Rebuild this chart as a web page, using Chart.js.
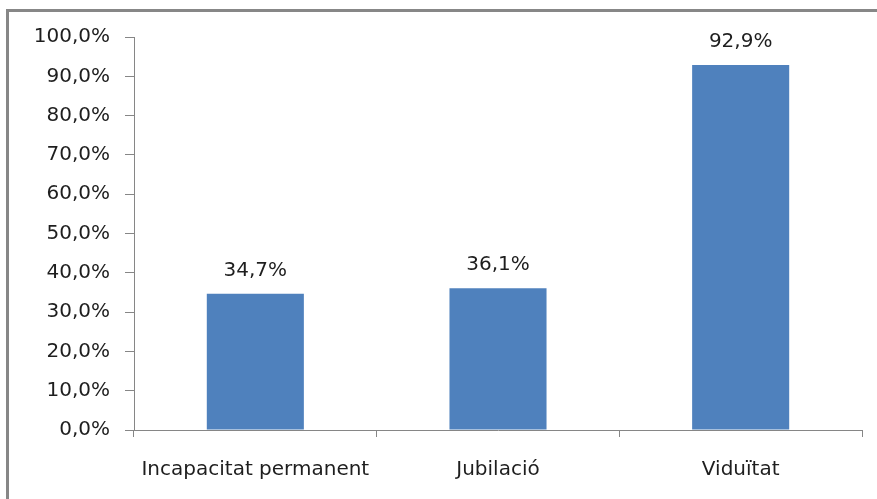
<!DOCTYPE html>
<html>
<head>
<meta charset="utf-8">
<script src="https://cdn.jsdelivr.net/npm/chart.js@4"></script>
<style>
  html, body { margin: 0; padding: 0; background: #fff; }
  #wrap { position: relative; width: 877px; height: 499px; overflow: hidden; }
  #frame {
    position: absolute; left: 6px; top: 9px; width: 900px; height: 520px;
    border-top: 3px solid #878787; border-left: 3px solid #878787;
  }
  canvas { position: absolute; left: 0; top: 0; }
</style>
</head>
<body>
<div id="wrap">
  <div id="frame"></div>
  <canvas id="chart" width="877" height="499"></canvas>
</div>
<script>
const categories = ['Incapacitat permanent', 'Jubilació', 'Viduïtat'];
const values = [34.7, 36.1, 92.9];
const yTicks = [0, 10, 20, 30, 40, 50, 60, 70, 80, 90, 100];

const FONT = "'DejaVu Sans', sans-serif";
const TEXT = '#1e1e1e';
const AXIS = '#868686';

const fmt = (v) => v.toFixed(1).replace('.', ',') + '%';

// value labels above each bar
const barLabels = {
  id: 'barLabels',
  afterDatasetsDraw(chart) {
    const ctx = chart.ctx;
    const meta = chart.getDatasetMeta(0);
    ctx.save();
    ctx.font = '20px ' + FONT;
    ctx.fillStyle = TEXT;
    ctx.textAlign = 'center';
    ctx.textBaseline = 'middle';
    meta.data.forEach((bar, i) => {
      ctx.fillText(fmt(values[i]), bar.x, bar.y - 23);
    });
    ctx.restore();
  },
};

Chart.defaults.font.family = FONT;
Chart.defaults.font.size = 20;
Chart.defaults.color = TEXT;

new Chart(document.getElementById('chart'), {
  type: 'bar',
  data: {
    labels: categories,
    datasets: [
      {
        data: values,
        backgroundColor: '#4f81bd',
        borderWidth: 0,
        barPercentage: 0.4,
        categoryPercentage: 1,
      },
    ],
  },
  options: {
    responsive: false,
    animation: false,
    layout: { padding: { top: 37, right: 15, left: 0, bottom: 0 } },
    plugins: {
      legend: { display: false },
      tooltip: { enabled: false },
    },
    scales: {
      y: {
        min: 0,
        max: 100,
        afterFit: (scale) => { scale.width = 134; },
        afterBuildTicks: (scale) => { scale.ticks = yTicks.map((v) => ({ value: v })); },
        ticks: {
          padding: 15,
          callback: (v) => fmt(v),
        },
        grid: {
          drawOnChartArea: false,
          drawTicks: true,
          tickLength: 9,
          color: AXIS,
        },
        border: { display: true, color: AXIS, width: 1 },
      },
      x: {
        afterFit: (scale) => { scale.height = 69; },
        ticks: { padding: 21, maxRotation: 0 },
        grid: {
          offset: true,
          drawOnChartArea: false,
          drawTicks: true,
          tickLength: 7,
          color: AXIS,
        },
        border: { display: true, color: AXIS, width: 1 },
      },
    },
  },
  plugins: [barLabels],
});
</script>
</body>
</html>
